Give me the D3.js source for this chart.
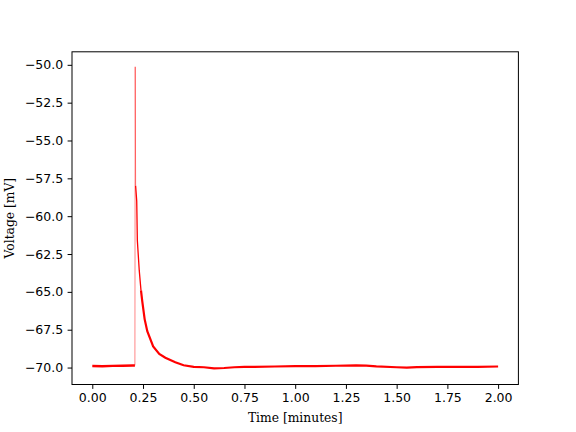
<!DOCTYPE html>
<html>
<head>
    <meta charset="utf-8">
    <title>Voltage trace</title>
    <script src="https://d3js.org/d3.v7.min.js"></script>
    <style>
        body { margin: 0; background: white; }
        .tick text { font-family: "DejaVu Sans", sans-serif; font-size: 12.5px; fill: black; }
        .label { font-family: "DejaVu Serif", serif; font-size: 12.3px; fill: black; }
    </style>
</head>
<body>
<script>
    // values (time in minutes, voltage in mV)
    let restTime = [0.00, 0.05, 0.10, 0.15, 0.20, 0.210];
    let restVolt = [-69.90, -69.91, -69.89, -69.88, -69.86, -69.86];

    let spikeTime = [0.210, 0.2115, 0.2135];
    let spikeVolt = [-69.86, -50.13, -58.0];

    // steep first part of the repolarisation, few samples so it looks thin
    let fallTime = [0.2135, 0.219, 0.222, 0.2315, 0.240];
    let fallVolt = [-58.0, -59.0, -61.6, -63.6, -64.9];

    let decayTime = [0.240, 0.246, 0.258, 0.271, 0.300, 0.330, 0.360, 0.409, 0.45,
                     0.50, 0.55, 0.60, 0.65, 0.70, 0.75, 0.80, 0.90, 1.00, 1.10, 1.20, 1.30, 1.35,
                     1.40, 1.50, 1.55, 1.60, 1.70, 1.80, 1.90, 2.00];
    let decayVolt = [-64.9, -65.6, -66.8, -67.6, -68.6, -69.1, -69.35, -69.65, -69.85,
                     -69.95, -69.98, -70.05, -70.03, -69.98, -69.96, -69.95, -69.93, -69.91, -69.90, -69.88, -69.86, -69.87,
                     -69.92, -69.98, -70.00, -69.97, -69.95, -69.96, -69.96, -69.93];

    let xTicks = [0.00, 0.25, 0.50, 0.75, 1.00, 1.25, 1.50, 1.75, 2.00];
    let yTicks = [-70.0, -67.5, -65.0, -62.5, -60.0, -57.5, -55.0, -52.5, -50.0];

    let width = 576, height = 432;
    let axLeft = 72, axRight = 518.4, axTop = 51.8, axBottom = 384.5;

    let svg = d3.select("body")
        .append("svg")
            .attr("width", width)
            .attr("height", height);

    let x = d3.scaleLinear().domain([-0.1, 2.1]).range([axLeft, axRight]);
    let y = d3.scaleLinear().domain([-71.12, -49.14]).range([axBottom, axTop]);

    let line = d3.line().x(d => x(d[0])).y(d => y(d[1]));
    let pairs = (ts, vs) => ts.map((t, i) => [t, vs[i]]);

    function trace(ts, vs, w, op) {
        svg.append("path")
            .datum(pairs(ts, vs))
            .attr("d", line)
            .attr("fill", "none")
            .attr("stroke", "red")
            .attr("stroke-opacity", op)
            .attr("stroke-width", w);
    }

    // noisy parts drawn as a thicker band
    trace(restTime, restVolt, 2.4, 1);
    trace(decayTime, decayVolt, 2.2, 1);
    trace(fallTime, fallVolt, 1.3, 1);
    // the spike itself is very thin
    trace(spikeTime, spikeVolt, 0.8, 0.6);

    let xAxis = svg.append("g")
        .attr("transform", `translate(0,${axBottom})`)
        .call(d3.axisBottom(x).tickValues(xTicks).tickFormat(d3.format(".2f")).tickSize(4.4).tickPadding(4.4));

    let yAxis = svg.append("g")
        .attr("transform", `translate(${axLeft},0)`)
        .call(d3.axisLeft(y).tickValues(yTicks).tickFormat(d => d3.format(".1f")(d).replace("-", "\u2212")).tickSize(4.4).tickPadding(4.4));

    [xAxis, yAxis].forEach(a => {
        a.attr("font-size", null).attr("font-family", null);
        a.select(".domain").remove();
        a.selectAll(".tick line").attr("stroke", "black").attr("stroke-width", 1);
    });

    svg.append("rect")
        .attr("x", axLeft).attr("y", axTop)
        .attr("width", axRight - axLeft).attr("height", axBottom - axTop)
        .attr("fill", "none").attr("stroke", "black").attr("stroke-width", 1);

    svg.append("text")
        .attr("class", "label")
        .attr("x", (axLeft + axRight) / 2).attr("y", 422)
        .attr("text-anchor", "middle")
        .text("Time [minutes]");

    svg.append("text")
        .attr("class", "label")
        .attr("transform", `translate(14,${(axTop + axBottom) / 2}) rotate(-90)`)
        .attr("text-anchor", "middle")
        .text("Voltage [mV]");
</script>
</body>
</html>
